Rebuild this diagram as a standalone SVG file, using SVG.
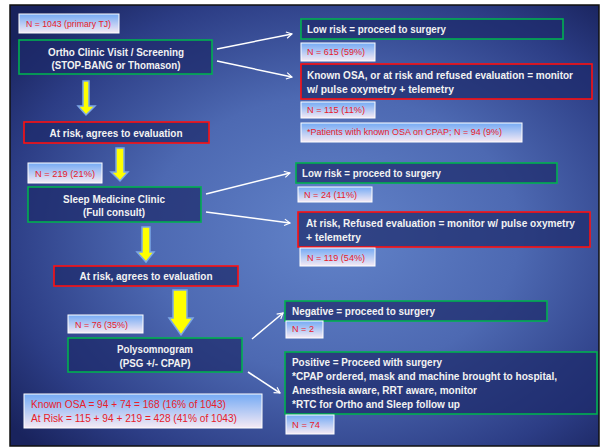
<svg xmlns="http://www.w3.org/2000/svg" width="602" height="447" viewBox="0 0 602 447">
<defs>
<radialGradient id="bg" cx="0.55" cy="0.52" r="0.7">
<stop offset="0" stop-color="#6283c9"/>
<stop offset="0.45" stop-color="#4d69b2"/>
<stop offset="0.8" stop-color="#2c3d85"/>
<stop offset="1" stop-color="#19235d"/>
</radialGradient>
<linearGradient id="nb" x1="0" y1="0" x2="0" y2="1">
<stop offset="0" stop-color="#74aaf4"/>
<stop offset="1" stop-color="#f6eaf4"/>
</linearGradient>
<marker id="ah" viewBox="0 0 10 10" refX="9" refY="5" markerWidth="8" markerHeight="8" orient="auto" markerUnits="userSpaceOnUse">
<polyline points="2,1 9,5 2,9" fill="none" stroke="#ffffff" stroke-width="1.4"/>
</marker>
<style>
.box{fill:#1c296a;fill-opacity:0.7;stroke-width:1.6}
.g{stroke:#00b050}
.r{stroke:#ff1010}
.nb{fill:url(#nb);stroke:#ffffff;stroke-width:1}
.t{font-family:"Liberation Sans",Arial,sans-serif;font-weight:bold;font-size:10.5px;fill:#f2f2f2}
.n{font-family:"Liberation Sans",Arial,sans-serif;font-size:9.5px;fill:#e8202a}
.k{font-family:"Liberation Sans",Arial,sans-serif;font-size:11px;fill:#e8202a}
.c{text-anchor:middle}
.ya{fill:#ffff00;stroke:#7ba6e6;stroke-width:1.5}
.wl{stroke:#ffffff;stroke-width:1.5;fill:none;marker-end:url(#ah)}
</style>
</defs>
<rect x="0" y="0" width="602" height="447" fill="#ffffff"/>
<rect x="10" y="5" width="589" height="441" fill="url(#bg)" stroke="#111111" stroke-width="1.5"/>

<g id="connectors">
<line class="wl" x1="217" y1="49" x2="292" y2="34"/>
<line class="wl" x1="217" y1="61" x2="292" y2="77"/>
<line class="wl" x1="206" y1="194" x2="290" y2="173"/>
<line class="wl" x1="206" y1="212" x2="290" y2="223"/>
<line class="wl" x1="252" y1="339" x2="283" y2="313"/>
<line class="wl" x1="248" y1="372" x2="280" y2="393"/>
<polygon id="arrow1" class="ya" points="83,81 89,81 89,106 95,106 86,115 78,106 83,106"/>
<polygon id="arrow2" class="ya" points="116,148 124,148 124,172 128,172 120,181 111,172 116,172"/>
<polygon id="arrow3" class="ya" points="142,227 150,227 150,252 154,252 146,262 137,252 142,252"/>
<polygon id="arrow4" class="ya" points="173,290 187,290 187,318 193,318 181,335 169,318 173,318"/>
</g>

<g id="n1043"><rect class="nb" x="19" y="14" width="100" height="19"/><text class="n" x="26" y="27" textLength="85" lengthAdjust="spacingAndGlyphs">N = 1043 (primary TJ)</text></g>

<g id="ortho"><rect class="box g" x="19" y="40" width="193" height="34"/>
<text class="t c" x="116" y="56" textLength="136" lengthAdjust="spacingAndGlyphs">Ortho Clinic Visit / Screening</text>
<text class="t c" x="116" y="69" textLength="129" lengthAdjust="spacingAndGlyphs">(STOP-BANG or Thomason)</text></g>

<g id="atrisk1"><rect class="box r" x="24" y="122" width="185" height="21"/>
<text class="t c" x="116" y="137" textLength="133" lengthAdjust="spacingAndGlyphs">At risk, agrees to evaluation</text></g>

<g id="lowrisk1"><rect class="box g" x="301" y="19" width="262" height="20"/>
<text class="t" x="307" y="33" textLength="139" lengthAdjust="spacingAndGlyphs">Low risk = proceed to surgery</text></g>

<g id="n615"><rect class="nb" x="301" y="43" width="74" height="18"/><text class="n" x="307" y="55" textLength="58" lengthAdjust="spacingAndGlyphs">N  = 615 (59%)</text></g>

<g id="knownosa"><rect class="box r" x="301" y="64" width="291" height="35"/>
<text class="t" x="307" y="79" textLength="266" lengthAdjust="spacingAndGlyphs">Known OSA, or at risk and refused evaluation = monitor</text>
<text class="t" x="307" y="93" textLength="147" lengthAdjust="spacingAndGlyphs">w/ pulse oxymetry + telemetry</text></g>

<g id="n115"><rect class="nb" x="301" y="102" width="74" height="16"/><text class="n" x="307" y="113" textLength="58" lengthAdjust="spacingAndGlyphs">N  = 115 (11%)</text></g>

<g id="cpap94"><rect class="nb" x="301" y="123" width="221" height="19"/><text class="n" x="307" y="135" textLength="195" lengthAdjust="spacingAndGlyphs">*Patients with known OSA on CPAP; N  = 94 (9%)</text></g>

<g id="n219"><rect class="nb" x="28" y="163" width="74" height="20"/><text class="n" x="35" y="177" textLength="60" lengthAdjust="spacingAndGlyphs">N  = 219 (21%)</text></g>

<g id="sleep"><rect class="box g" x="28" y="187" width="173" height="35"/>
<text class="t c" x="114" y="203" textLength="102" lengthAdjust="spacingAndGlyphs">Sleep Medicine Clinic</text>
<text class="t c" x="114" y="216" textLength="62" lengthAdjust="spacingAndGlyphs">(Full consult)</text></g>

<g id="lowrisk2"><rect class="box g" x="296" y="163" width="261" height="20"/>
<text class="t" x="302" y="177" textLength="139" lengthAdjust="spacingAndGlyphs">Low risk = proceed to surgery</text></g>

<g id="n24"><rect class="nb" x="298" y="187" width="74" height="15"/><text class="n" x="304" y="198" textLength="53" lengthAdjust="spacingAndGlyphs">N  = 24 (11%)</text></g>

<g id="refused2"><rect class="box r" x="298" y="212" width="292" height="35"/>
<text class="t" x="306" y="227" textLength="269" lengthAdjust="spacingAndGlyphs">At risk, Refused evaluation = monitor w/ pulse oxymetry</text>
<text class="t" x="306" y="241" textLength="55" lengthAdjust="spacingAndGlyphs">+ telemetry</text></g>

<g id="n119"><rect class="nb" x="300" y="248" width="75" height="18"/><text class="n" x="307" y="261" textLength="58" lengthAdjust="spacingAndGlyphs">N  = 119 (54%)</text></g>

<g id="atrisk2"><rect class="box r" x="54" y="266" width="184" height="20"/>
<text class="t c" x="146" y="280" textLength="133" lengthAdjust="spacingAndGlyphs">At risk, agrees to evaluation</text></g>

<g id="n76"><rect class="nb" x="68" y="315" width="75" height="18"/><text class="n" x="75" y="328" textLength="53" lengthAdjust="spacingAndGlyphs">N  = 76 (35%)</text></g>

<g id="psg"><rect class="box g" x="68" y="338" width="174" height="34"/>
<text class="t c" x="155" y="353" textLength="76" lengthAdjust="spacingAndGlyphs">Polysomnogram</text>
<text class="t c" x="155" y="367" textLength="71" lengthAdjust="spacingAndGlyphs">(PSG +/- CPAP)</text></g>

<g id="summary"><rect class="nb" x="24" y="394" width="238" height="34"/>
<text class="k" x="31" y="408" textLength="195" lengthAdjust="spacingAndGlyphs">Known OSA = 94 + 74 = 168 (16% of 1043)</text>
<text class="k" x="31" y="422" textLength="206" lengthAdjust="spacingAndGlyphs">At Risk = 115 + 94 + 219 = 428 (41% of 1043)</text></g>

<g id="negative"><rect class="box g" x="285" y="301" width="262" height="20"/>
<text class="t" x="292" y="315" textLength="143" lengthAdjust="spacingAndGlyphs">Negative = proceed to surgery</text></g>

<g id="n2"><rect class="nb" x="286" y="321" width="37" height="17"/><text class="n" x="292" y="332" textLength="22" lengthAdjust="spacingAndGlyphs">N  = 2</text></g>

<g id="positive"><rect class="box g" x="285" y="352" width="312" height="62"/>
<text class="t" x="292" y="366" textLength="150" lengthAdjust="spacingAndGlyphs">Positive = Proceed with surgery</text>
<text class="t" x="292" y="380" textLength="265" lengthAdjust="spacingAndGlyphs">*CPAP ordered, mask and machine brought to hospital,</text>
<text class="t" x="292" y="394" textLength="185" lengthAdjust="spacingAndGlyphs">Anesthesia aware, RRT aware, monitor</text>
<text class="t" x="292" y="408" textLength="168" lengthAdjust="spacingAndGlyphs">*RTC for Ortho and Sleep follow up</text></g>

<g id="n74"><rect class="nb" x="286" y="415" width="48" height="19"/><text class="n" x="292" y="428" textLength="28" lengthAdjust="spacingAndGlyphs">N  = 74</text></g>
</svg>
